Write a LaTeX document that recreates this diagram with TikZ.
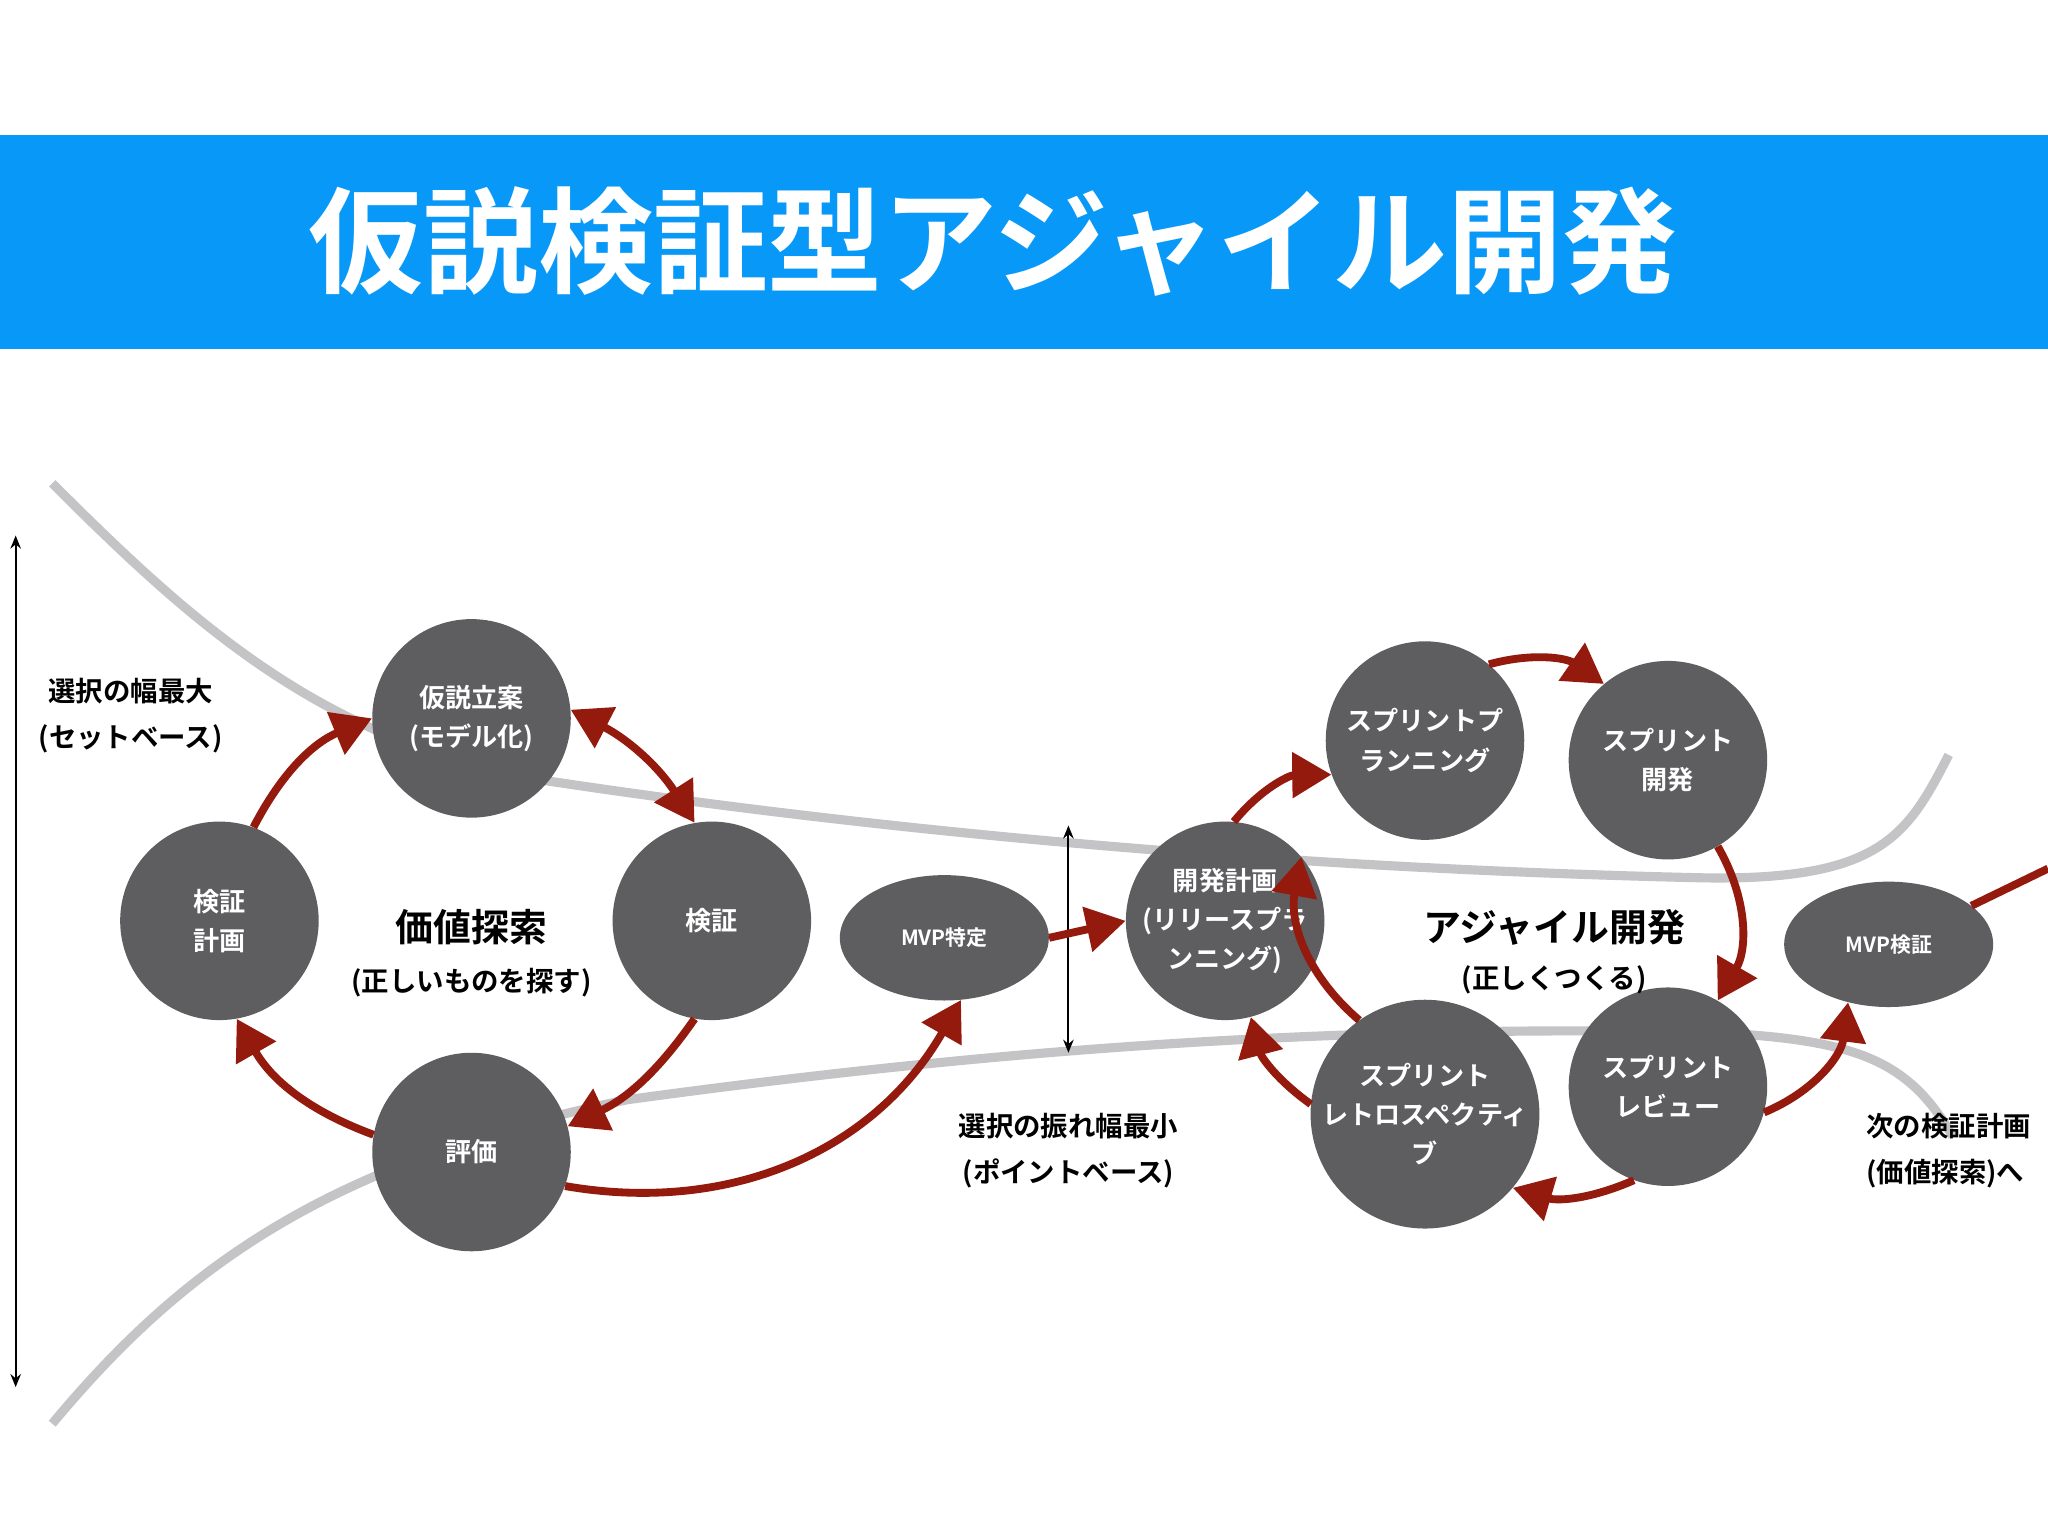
\documentclass[tikz,border=0pt]{standalone}
\usepackage{fontspec}
\setmainfont{Noto Sans CJK JP}[BoldFont={* Bold}]
\usetikzlibrary{arrows.meta,shapes.geometric}
\definecolor{nodegray}{HTML}{5E5D60}
\definecolor{barblue}{HTML}{0898F8}
\definecolor{arrred}{HTML}{951A0E}
\definecolor{curvegray}{HTML}{C4C3C5}
\tikzset{
  circ/.style={circle,fill=nodegray,minimum size=152pt,inner sep=0pt,text=white,align=center,font=\bfseries\fontsize{20}{30}\selectfont},
  ell/.style={ellipse,fill=nodegray,minimum width=160pt,minimum height=96pt,inner sep=0pt,text=white,align=center,font=\bfseries\fontsize{16}{20}\selectfont},
  lab/.style={align=center,font=\bfseries\fontsize{21}{35}\selectfont},
  big/.style={align=center,font=\bfseries\fontsize{29}{40}\selectfont},
  red/.style={draw=arrred,line width=6pt,-{Triangle[width=34pt,length=30pt]}},
  gcurve/.style={draw=curvegray,line width=7pt},
  dim/.style={draw=black,line width=1.5pt,{Stealth[length=10pt,width=8pt]}-{Stealth[length=10pt,width=8pt]}}
}
\begin{document}
\begin{tikzpicture}[x=1pt,y=-1pt]
\useasboundingbox (0,0) rectangle (1568,1176);
\fill[white] (0,0) rectangle (1568,1176);
\fill[barblue] (0,103) rectangle (1568,267);
\node[text=white,font=\bfseries\fontsize{88}{90}\selectfont] (title) at (760,185) {仮説検証型アジャイル開発};
% gray curves
\draw[gcurve] (40,370) .. controls (150,480) and (250,570) .. (420,598) .. controls (700,640) and (1000,665) .. (1300,672) .. controls (1440,675) and (1460,640) .. (1492,578);
\draw[gcurve] (40,1090) .. controls (140,970) and (250,890) .. (480,842) .. controls (750,805) and (1000,785) .. (1300,790) .. controls (1420,795) and (1460,810) .. (1495,870);
% nodes
\node[circ] (hyp) at (361,550) {仮説立案\\(モデル化)};
\node[circ] (plan) at (168,705) {検証\\計画};
\node[circ] (ver) at (545,705) {検証};
\node[circ] (eval) at (361,882) {評価};
\node[ell] (mvp) at (723,718) {MVP特定};
\node[circ] (rel) at (938,705) {開発計画\\(リリースプラ\\ンニング)};
\node[circ] (spp) at (1091,567) {スプリントプ\\ランニング};
\node[circ] (spd) at (1277,582) {スプリント\\開発};
\node[circ] (spr) at (1277,832) {スプリント\\レビュー};
\node[circ] (spt) at (1091,853) {スプリント\\レトロスペクティ\\ブ};
\node[ell] (mvpv) at (1446,723) {MVP検証};
\node[big] (c1) at (361,710) {価値探索};
\node[lab] (c1b) at (361,752) {(正しいものを探す)};
\node[big] (c2) at (1190,710) {アジャイル開発};
\node[lab] (c2b) at (1190,750) {(正しくつくる)};
\node[lab] (l1) at (100,548) {選択の幅最大\\(セットベース)};
\node[lab] (l2) at (818,881) {選択の振れ幅最小\\(ポイントベース)};
\node[lab,align=left] (l3) at (1492,881) {次の検証計画\\(価値探索)へ};
% dimension arrows
\coordinate (a1) at (12,410); \coordinate (a2) at (12,1062);
\draw[dim] (a1) -- (a2);
\coordinate (b1) at (818,632); \coordinate (b2) at (818,806);
\draw[dim] (b1) -- (b2);
% red arrows
\draw[red] (plan.70) to[bend left=20] (hyp.180);
\draw[red,{Triangle[width=34pt,length=30pt]}-{Triangle[width=34pt,length=30pt]}] (hyp.5) to[bend left=15] (ver.100);
\draw[red] (ver.260) to[bend left=15] (eval.15);
\draw[red] (eval.170) to[bend left=20] (plan.280);
\draw[red] (eval.340) to[bend right=35] (mvp.285);
\draw[red] (mvp.0) -- (rel.180);
\draw[red] (rel.85) to[bend left=25] (spp.200);
\draw[red] (spp.50) to[bend left=25] (spd.130);
\draw[red] (spd.300) to[bend left=30] (spr.60);
\draw[red] (spr.250) to[bend left=20] (spt.320);
\draw[red] (spt.125) to[bend left=30] (rel.40);
\draw[red] (spt.175) to[bend left=20] (rel.285);
\draw[red] (spr.345) to[bend right=30] (mvpv.235);
\coordinate (out) at (1568,665);
\draw[draw=arrred,line width=6pt] (mvpv.25) -- (out);
\end{tikzpicture}
\end{document}
